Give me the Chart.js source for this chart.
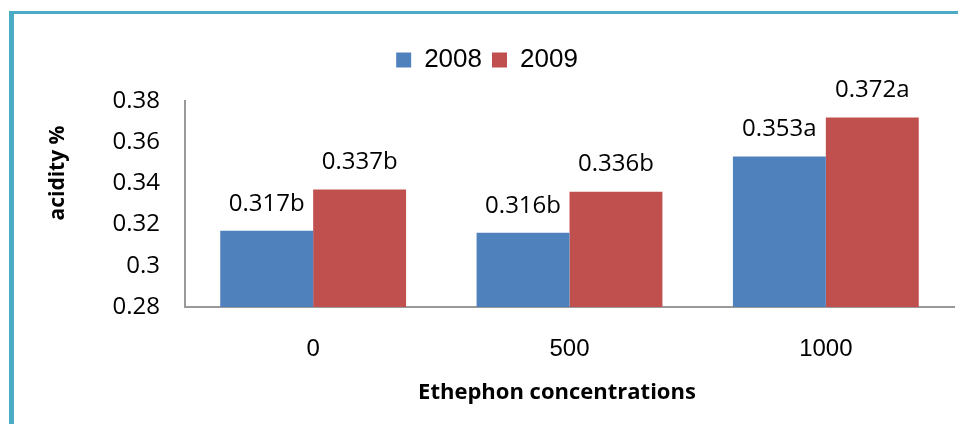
<!DOCTYPE html>
<html>
<head>
<meta charset="utf-8">
<script src="https://cdn.jsdelivr.net/npm/chart.js@4"></script>
<style>
  body { margin: 0; background: #fff; }
  #wrap { position: relative; width: 958px; height: 424px; }
  #frame {
    position: absolute; left: 9px; top: 11px; right: 0; bottom: 0;
    border-left: 5px solid #4bacc6; border-top: 3px solid #4bacc6;
  }
  canvas { position: absolute; left: 0; top: 0; }
</style>
</head>
<body>
<div id="wrap">
  <div id="frame"></div>
  <canvas id="acid-chart" width="958" height="424"></canvas>
</div>
<script>
// Acidity values
var concentrations = ["0", "500", "1000"];
var acidity_2008 = [0.317, 0.316, 0.353];
var acidity_2009 = [0.337, 0.336, 0.372];
var letters_2008 = ["b", "b", "a"];
var letters_2009 = ["b", "b", "a"];
var y_min = 0.28;
var y_max = 0.38;
var y_step = 0.02;
var x_title = "Ethephon concentrations";
var y_title = "acidity %";

// value + significance letter above each bar
var barLabels = {
  id: "barLabels",
  afterDatasetsDraw: function (chart) {
    var ctx = chart.ctx;
    var letters = [letters_2008, letters_2009];
    ctx.save();
    ctx.font = "24px 'Open Sans'";
    ctx.fillStyle = "#000";
    ctx.textAlign = "center";
    ctx.textBaseline = "middle";
    chart.data.datasets.forEach(function (ds, i) {
      chart.getDatasetMeta(i).data.forEach(function (bar, j) {
        ctx.fillText(ds.data[j] + letters[i][j], bar.x, bar.y - 27);
      });
    });
    ctx.restore();
  },
};

// axis titles are a little off-centre in the original, so draw them here
var axisTitles = {
  id: "axisTitles",
  afterDraw: function (chart) {
    var ctx = chart.ctx;
    ctx.save();
    ctx.fillStyle = "#000";
    ctx.textAlign = "center";
    ctx.textBaseline = "middle";
    ctx.font = "bold 22px 'Open Sans'";
    ctx.fillText(x_title, 557, 393);
    ctx.translate(58, 173);
    ctx.rotate(-Math.PI / 2);
    ctx.font = "bold 21px 'Open Sans'";
    ctx.fillText(y_title, 0, 0);
    ctx.restore();
  },
};

// leave a gap between legend and plot
var legendGap = {
  id: "legendGap",
  beforeLayout: function (chart) {
    var lg = chart.legend;
    if (lg && !lg._gapped) {
      var fit = lg.fit;
      lg.fit = function () {
        fit.call(this);
        this.height += 18;
      };
      lg._gapped = true;
    }
  },
};

var ctx = document.getElementById("acid-chart").getContext("2d");
var acid_chart = new Chart(ctx, {
  type: "bar",
  data: {
    labels: concentrations,
    datasets: [
      {
        label: "2008",
        data: acidity_2008,
        backgroundColor: "#4f81bd",
        barPercentage: 1.0,
        categoryPercentage: 0.725,
      },
      {
        label: "2009",
        data: acidity_2009,
        backgroundColor: "#c0504d",
        barPercentage: 1.0,
        categoryPercentage: 0.725,
      },
    ],
  },
  options: {
    responsive: false,
    animation: false,
    layout: { padding: { left: 20, right: 4, top: 37, bottom: 0 } },
    plugins: {
      legend: {
        position: "top",
        labels: {
          boxWidth: 15,
          boxHeight: 15,
          padding: 10,
          color: "#000",
          font: { family: "'Liberation Sans'", size: 26 },
        },
      },
      tooltip: { enabled: false },
    },
    scales: {
      x: {
        grid: { display: false, drawTicks: false },
        border: { color: "#999", width: 2 },
        ticks: {
          padding: 28,
          color: "#000",
          font: { family: "'Liberation Sans'", size: 24 },
        },
        afterFit: function (scale) {
          scale.height = 117;
        },
      },
      y: {
        min: y_min,
        max: y_max,
        grid: { display: false, drawTicks: false },
        border: { color: "#999", width: 2 },
        ticks: {
          stepSize: y_step,
          padding: 25,
          color: "#000",
          font: { family: "'Open Sans'", size: 24 },
          callback: function (v) {
            return +v.toFixed(2);
          },
        },
        afterFit: function (scale) {
          scale.width = 165;
        },
      },
    },
  },
  plugins: [barLabels, axisTitles, legendGap],
});
</script>
</body>
</html>
